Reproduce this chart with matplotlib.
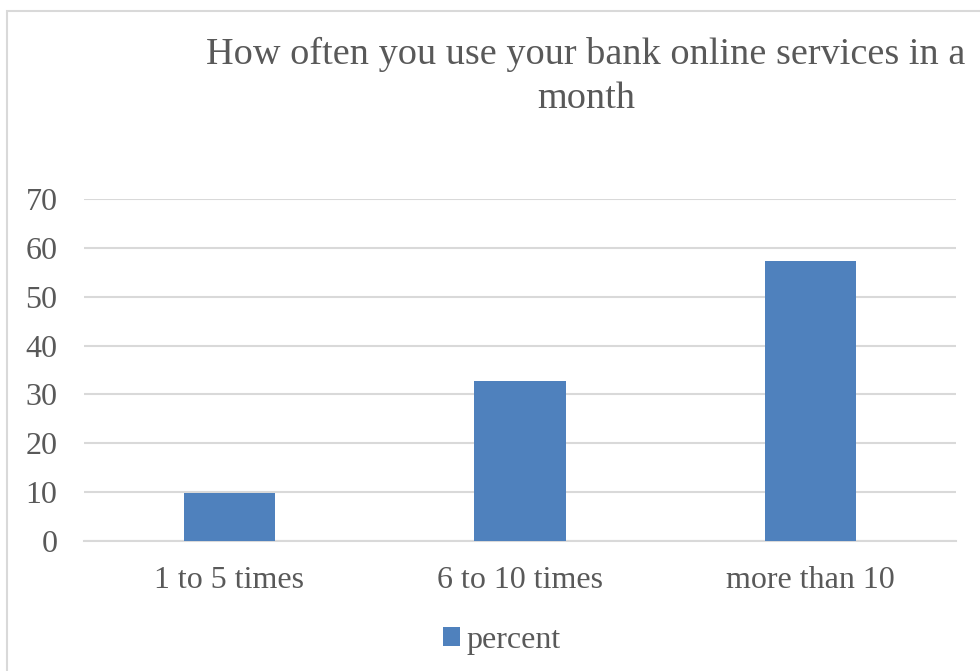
import matplotlib.pyplot as plt
from matplotlib.patches import Rectangle

# survey answers
categories = ["1 to 5 times", "6 to 10 times", "more than 10"]
percent = [9.8, 32.7, 57.3]
yticks = [0, 10, 20, 30, 40, 50, 60, 70]

bar_color = "#4F81BD"
text_color = "#595959"
grid_color = "#D9D9D9"

plt.rcParams["font.family"] = ["Liberation Serif", "DejaVu Serif"]

fig = plt.figure(figsize=(9.8, 6.71), dpi=100)
ax = fig.add_axes([0.0857, 0.1937, 0.8898, 0.5097])

# chart area frame
fig.patches.append(Rectangle((7 / 980, -0.1), 1.1, 1 - 11 / 671 + 0.1,
                             transform=fig.transFigure, fill=False,
                             edgecolor=grid_color, linewidth=1.5))

x = range(len(categories))
ax.bar(x, percent, width=0.315, color=bar_color, label="percent", zorder=3)

ax.set_xlim(-0.5, 2.5)
ax.set_ylim(0, 70)
ax.set_yticks(yticks)
ax.set_xticks(list(x))
ax.set_xticklabels(categories)
ax.yaxis.grid(True, color=grid_color, linewidth=1.5, zorder=0)
ax.tick_params(axis="both", length=0, labelsize=23, colors=text_color)
ax.tick_params(axis="y", pad=19)
ax.tick_params(axis="x", pad=18)
for s in ["top", "right", "left"]:
    ax.spines[s].set_visible(False)
ax.spines["bottom"].set_color(grid_color)
ax.spines["bottom"].set_linewidth(1.5)

fig.text(0.598, 0.886, "How often you use your bank online services in a\nmonth",
         ha="center", va="center", fontsize=27.5, color=text_color,
         linespacing=1.33)

leg = fig.legend(loc="center", bbox_to_anchor=(0.512, 0.046), frameon=False,
                 fontsize=23, handlelength=0.55, handleheight=0.55,
                 handletextpad=0.2)
for t in leg.get_texts():
    t.set_color(text_color)

fig.savefig("out.png", dpi=100)
